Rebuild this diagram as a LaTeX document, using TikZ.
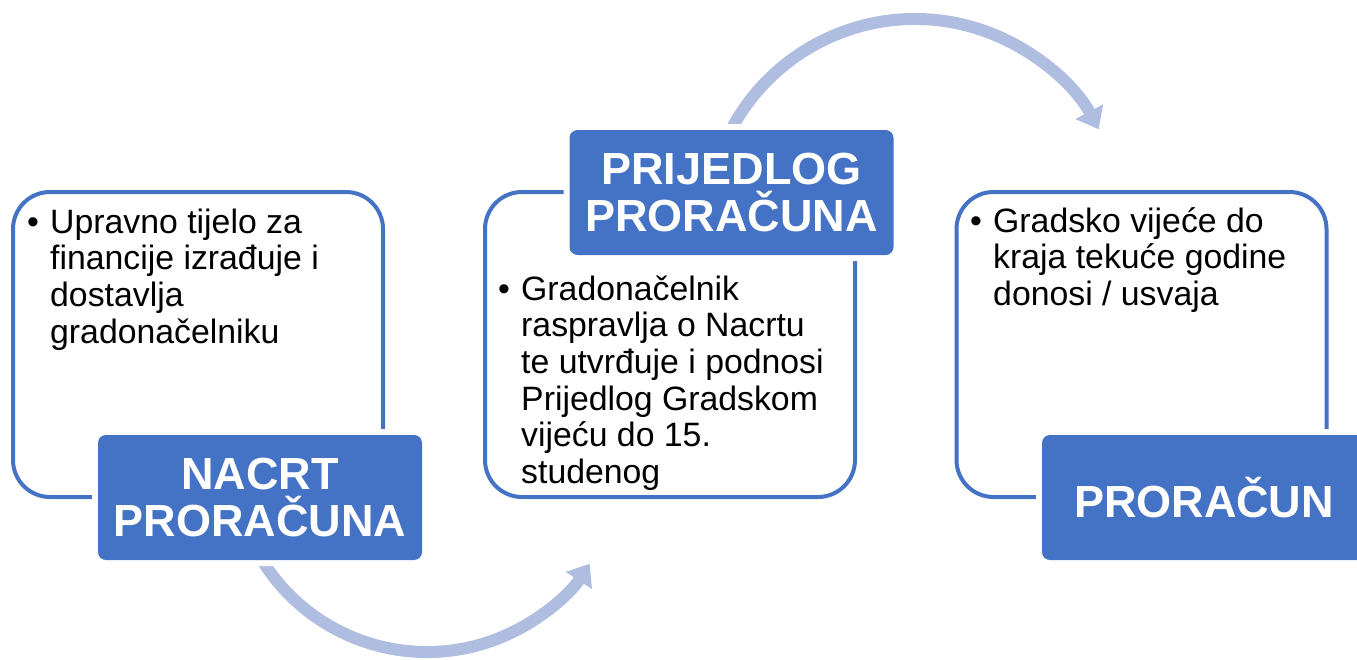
\documentclass[tikz,border=0pt]{standalone}
\usepackage{fontspec}
\setmainfont{Liberation Sans}
\usetikzlibrary{arrows.meta}
\definecolor{accent}{HTML}{4472C4}
\definecolor{flowc}{HTML}{AFBDE0}
\tikzset{
  frame/.style={draw=accent, line width=4pt, rounded corners=37pt, minimum width=370pt, minimum height=305pt, inner sep=0pt},
  title/.style={fill=accent, text=white, rounded corners=8pt, minimum width=324pt, minimum height=125pt, inner sep=0pt,
    align=center, font=\fontsize{45}{47}\selectfont\bfseries, preaction={draw=white, line width=12pt}},
  flow/.style={draw=flowc, line width=12pt, -{Triangle[length=20pt, width=30pt]}},
  body/.style={anchor=base west, inner sep=0pt, font=\fontsize{33.8}{36.7}\selectfont},
}
\newcommand{\bulleted}[1]{\begin{tabular}[t]{@{}p{23pt}@{}l@{}}\textbullet & #1\end{tabular}}

\begin{document}
\begin{tikzpicture}[x=1pt, y=-1pt]
  \useasboundingbox (0,0) rectangle (1357,659);
  % outline boxes
  \foreach \n/\x in {nacrt/198, prijedlog/670, proracun/1141.5}
    \node[frame] (\n-box) at (\x,344.5) {};
  % curved arrows
  \coordinate (lowc) at (427,458);
  \coordinate (highc) at (915,227);
  \coordinate (lows) at ([shift={(lowc)}]205:194pt);
  \coordinate (highs) at ([shift={(highc)}]158:208pt);
  \draw[flow] (lows) arc[start angle=205, end angle=327, radius=194pt];
  \draw[flow] (highs) arc[start angle=158, end angle=28, radius=208pt];
  % titles
  \node[title] (nacrt) at (260,497.5) {NACRT\\PRORAČUNA};
  \node[title] (prijedlog) at (731.5,192.5) {PRIJEDLOG\\PRORAČUNA};
  \node[title] (proracun) at (1204,497.5) {PRORAČUN};
  % texts
  \node[body] (nacrt-txt) at (27,233)
    {\bulleted{Upravno tijelo za\\ & financije izrađuje i\\ & dostavlja\\ & gradonačelniku}};
  \node[body] (prijedlog-txt) at (498,300)
    {\bulleted{Gradonačelnik\\ & raspravlja o Nacrtu\\ & te utvrđuje i podnosi\\ & Prijedlog Gradskom\\ & vijeću do 15.\\ & studenog}};
  \node[body] (proracun-txt) at (970,232)
    {\bulleted{Gradsko vijeće do\\ & kraja tekuće godine\\ & donosi / usvaja}};
\end{tikzpicture}
\end{document}
